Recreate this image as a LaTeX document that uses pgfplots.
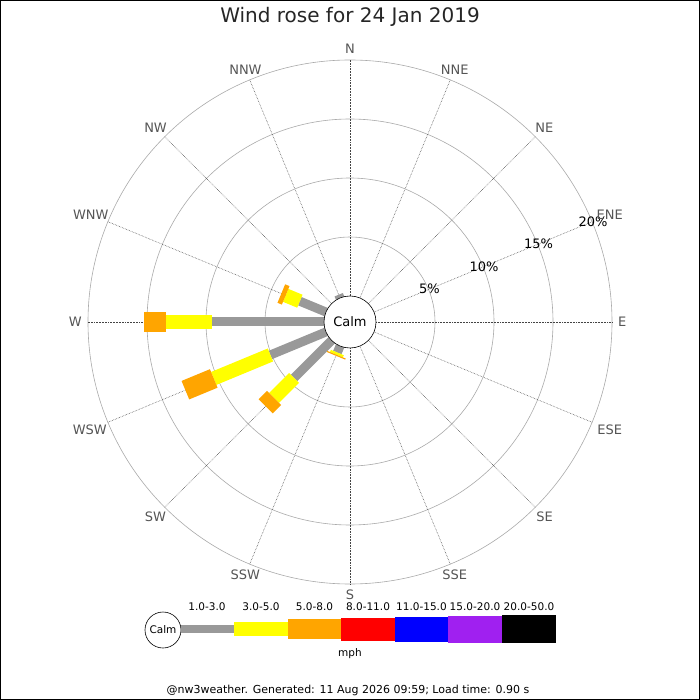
\documentclass[border=0pt]{standalone}
\usepackage{pgfplots}
\pgfplotsset{compat=1.18}
\usepackage{fontspec}
\setmainfont{DejaVu Sans}

\definecolor{wgray}{HTML}{999999}
\definecolor{wyellow}{HTML}{FFFF00}
\definecolor{worange}{HTML}{FFA500}
\definecolor{wred}{HTML}{FF0000}
\definecolor{wblue}{HTML}{0000FF}
\definecolor{wpurple}{HTML}{A020F0}
\definecolor{ringgray}{HTML}{AAAAAA}
\definecolor{spokegray}{HTML}{444444}
\definecolor{labgray}{HTML}{555555}

% one speed band of one direction: colour, width, angle, start %, end %
% (radius 0% sits on the edge of the calm circle, 2.2 units out)
\newcommand\seg[5]{\addplot[draw=#1, line width=#2, data cs=polar, forget plot]
  table[row sep=\\, x=a, y expr=\thisrow{r}+2.2] {a r\\ #3 #4\\ #3 #5\\};}

\begin{document}
\begin{tikzpicture}[x=1pt, y=1pt]
\useasboundingbox (-350,-378) rectangle (350,322);
\fill[white] (-350,-378) rectangle (350,322);
\draw[black, line width=1pt] (-349.5,-377.5) rectangle (349.5,321.5);

% title
\node[text=black!85] at (0,305) {\fontsize{20}{24}\selectfont Wind rose for 24 Jan 2019};

% rings (5, 10, 15, 20 %)
\foreach \r in {85,144,203,262}
  \draw[ringgray, line width=0.6pt] (0,0) circle[radius=\r];
% spokes
\foreach \a in {0,22.5,...,337.5}
  \draw[spokegray, densely dotted, line width=0.55pt] (\a:26) -- (\a:262);

\begin{axis}[
  at={(0,0)}, anchor=origin,
  x=11.8pt, y=11.8pt,
  xmin=-25, xmax=25, ymin=-25, ymax=25,
  hide axis, clip=false,
]
% W (180)
\seg{wgray}{9pt}{180}{-1}{9.5}
\seg{wyellow}{14pt}{180}{9.5}{13.4}
\seg{worange}{20pt}{180}{13.4}{15.3}
% WSW (202.5)
\seg{wgray}{9pt}{202.5}{-1}{5.1}
\seg{wyellow}{14pt}{202.5}{5.1}{10.3}
\seg{worange}{20pt}{202.5}{10.3}{12.9}
% SW (225)
\seg{wgray}{9pt}{225}{-1}{4.5}
\seg{wyellow}{14pt}{225}{4.5}{6.9}
\seg{worange}{20pt}{225}{6.9}{7.9}
% WNW (157.5)
\seg{wgray}{9pt}{157.5}{-1}{2.4}
\seg{wyellow}{14pt}{157.5}{2.4}{3.7}
\seg{worange}{20pt}{157.5}{3.7}{4.1}
% NNW (112.5)
\seg{wgray}{9pt}{112.5}{-1}{0.3}
% SSW (247.5)
\seg{wgray}{9pt}{247.5}{-1}{0.6}
\seg{wyellow}{14pt}{247.5}{0.6}{0.8}
\seg{worange}{20pt}{247.5}{0.8}{0.9}
\end{axis}

% calm circle
\draw[black, fill=white, line width=0.6pt] (0,0) circle[radius=26];
\node at (0,0) {\fontsize{13}{15}\selectfont Calm};

% ring labels
\foreach \r/\t in {85/5, 144/10, 203/15, 262/20}
  \node at (22.5:\r+1) {\fontsize{13}{15}\selectfont \t\%};

% direction labels
\foreach \a/\t in {90/N, 67.5/NNE, 45/NE, 22.5/ENE, 0/E, -22.5/ESE, -45/SE,
  -67.5/SSE, -90/S, -112.5/SSW, -135/SW, -157.5/WSW, 180/W, 157.5/WNW,
  135/NW, 112.5/NNW} {
  \pgfmathtruncatemacro\b{\a+180}
  \node[text=labgray, anchor=\b, inner sep=0pt] at (\a:268)
    {\fontsize{13}{15}\selectfont \t};
}

% legend
\draw[black, fill=white, line width=0.6pt] (-187,-308) circle[radius=18];
\node at (-187,-308) {\fontsize{10.5}{12}\selectfont Calm};
\fill[wgray]   (-169,-303) rectangle (-116,-311);
\fill[wyellow] (-116,-300) rectangle (-62,-314);
\fill[worange] (-62,-297) rectangle (-9,-317);
\fill[wred]    (-9,-296) rectangle (45,-319);
\fill[wblue]   (45,-295) rectangle (98,-320);
\fill[wpurple] (98,-294) rectangle (152,-321);
\fill[black]   (152,-293) rectangle (206,-321);
\foreach \x/\t in {-143/1.0-3.0, -89/3.0-5.0, -35.5/5.0-8.0, 18/8.0-11.0,
  71.5/11.0-15.0, 125/15.0-20.0, 179/20.0-50.0}
  \node at (\x,-285) {\fontsize{10.5}{12}\selectfont \t};
\node at (0,-332) {\fontsize{10.5}{12}\selectfont mph};

% footer
\node at (-2,-368) {\fontsize{11}{13}\selectfont @nw3weather. Generated: 11 Aug 2026 09:59; Load time: 0.90 s};
\end{tikzpicture}
\end{document}
